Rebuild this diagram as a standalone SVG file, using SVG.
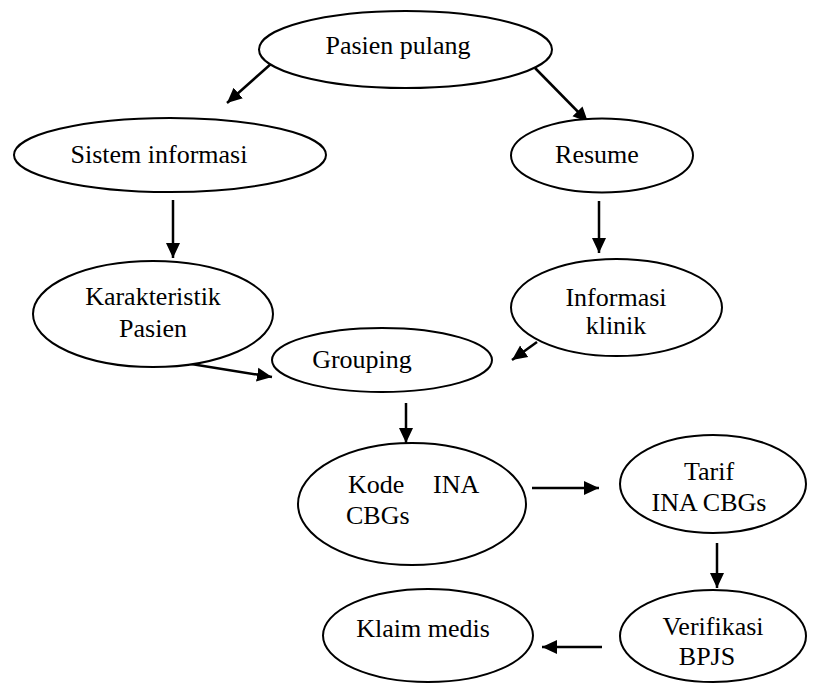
<svg xmlns="http://www.w3.org/2000/svg" width="825" height="683" viewBox="0 0 825 683">
<style>
.n ellipse{fill:#fff;stroke:#000;stroke-width:2}
.n text{font-family:'Liberation Serif','DejaVu Serif',serif;font-size:26px;fill:#000}
.c line{stroke:#000;stroke-width:2.5}
</style>
<defs>
<marker id="ah" markerUnits="userSpaceOnUse" markerWidth="16" markerHeight="16" refX="15" refY="8" orient="auto">
<path d="M0,1 L15,8 L0,15 Z" fill="#000"/>
</marker>
</defs>
<rect width="825" height="683" fill="#fff"/>
<g class="c">
<line x1="272" y1="63" x2="227" y2="103" marker-end="url(#ah)"/>
<line x1="535" y1="68" x2="588" y2="122" marker-end="url(#ah)"/>
<line x1="173" y1="200" x2="173" y2="258" marker-end="url(#ah)"/>
<line x1="599" y1="201" x2="599" y2="253" marker-end="url(#ah)"/>
<line x1="537" y1="342" x2="512" y2="360" marker-end="url(#ah)"/>
<line x1="185" y1="363" x2="272" y2="377" marker-end="url(#ah)"/>
<line x1="406" y1="403" x2="406" y2="443" marker-end="url(#ah)"/>
<line x1="532" y1="488" x2="599" y2="488" marker-end="url(#ah)"/>
<line x1="717" y1="543" x2="717" y2="588" marker-end="url(#ah)"/>
<line x1="602" y1="647" x2="542" y2="647" marker-end="url(#ah)"/>
</g>
<g id="pasien-pulang" class="n" font-family="Liberation Serif, serif"><ellipse cx="405.5" cy="49.5" rx="146.5" ry="38.5"/><text x="398" y="54" text-anchor="middle">Pasien pulang</text></g>
<g id="sistem-informasi" class="n" font-family="Liberation Serif, serif"><ellipse cx="170" cy="155" rx="156" ry="37"/><text x="159" y="163" text-anchor="middle">Sistem informasi</text></g>
<g id="resume" class="n" font-family="Liberation Serif, serif"><ellipse cx="602" cy="155.5" rx="91" ry="37"/><text x="597" y="163" text-anchor="middle">Resume</text></g>
<g id="karakteristik-pasien" class="n" font-family="Liberation Serif, serif"><ellipse cx="153" cy="314" rx="120" ry="53"/><text x="153" y="305" text-anchor="middle">Karakteristik</text><text x="153" y="337" text-anchor="middle">Pasien</text></g>
<g id="informasi-klinik" class="n" font-family="Liberation Serif, serif"><ellipse cx="616.5" cy="307.5" rx="105.5" ry="48.5"/><text x="616" y="306" text-anchor="middle">Informasi</text><text x="616" y="334" text-anchor="middle">klinik</text></g>
<g id="grouping" class="n" font-family="Liberation Serif, serif"><ellipse cx="382" cy="360" rx="110" ry="32"/><text x="362" y="368" text-anchor="middle">Grouping</text></g>
<g id="kode-ina-cbgs" class="n" font-family="Liberation Serif, serif"><ellipse cx="412" cy="504" rx="114" ry="61"/><text x="348" y="493">Kode</text><text x="433" y="493">INA</text><text x="346" y="524">CBGs</text></g>
<g id="tarif-ina-cbgs" class="n" font-family="Liberation Serif, serif"><ellipse cx="713" cy="484" rx="93" ry="49"/><text x="709" y="480" text-anchor="middle">Tarif</text><text x="709" y="511" text-anchor="middle">INA CBGs</text></g>
<g id="verifikasi-bpjs" class="n" font-family="Liberation Serif, serif"><ellipse cx="713" cy="636" rx="93" ry="46"/><text x="713" y="635" text-anchor="middle">Verifikasi</text><text x="707" y="665" text-anchor="middle">BPJS</text></g>
<g id="klaim-medis" class="n" font-family="Liberation Serif, serif"><ellipse cx="428" cy="635.5" rx="105" ry="46.5"/><text x="423" y="637" text-anchor="middle">Klaim medis</text></g>
</svg>
